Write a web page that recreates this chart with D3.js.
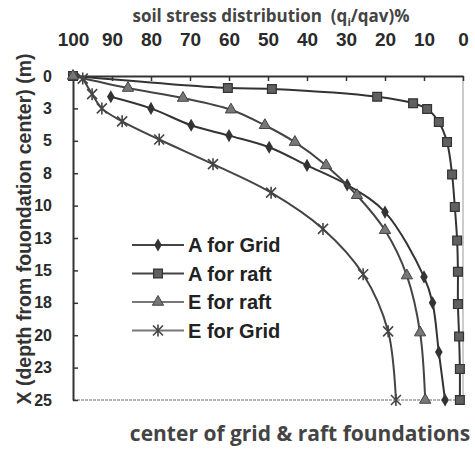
<!DOCTYPE html>
<html>
<head>
<meta charset="utf-8">
<script src="https://cdn.jsdelivr.net/npm/d3@7"></script>
<style>
  body { margin: 0; background: #fff; }
</style>
</head>
<body>
<div id="chart"></div>
<script>
// depth (m) and stress (%), one pair of arrays per series
var depthAGrid = [1.6, 2.5, 3.8, 4.6, 5.5, 6.9, 8.4, 10.5, 15.5, 17.5, 21.3, 25];
var stressAGrid = [90.3, 80, 69.7, 60, 49.7, 40, 29.7, 20, 10, 7.8, 6.2, 4.6];

var depthARaft = [0, 0.93, 1.0, 1.6, 2.1, 2.55, 3.55, 5.1, 7.6, 10.1, 12.7, 15.1, 17.6, 20.1, 22.6, 25];
var stressARaft = [100, 60.3, 49, 22, 12.8, 9.2, 6.2, 4.1, 2.8, 2.1, 1.5, 1.3, 1.3, 1.0, 0.8, 0.8];

var depthERaft = [0, 0.93, 1.7, 2.6, 3.8, 5.1, 6.9, 9.2, 11.9, 15.4, 19.8, 25];
var stressERaft = [100, 85.9, 71.8, 59.5, 50.8, 43.1, 35.1, 27.2, 20, 14.4, 11, 9.7];

var depthEGrid = [0.2, 1.4, 2.5, 3.5, 4.9, 6.8, 9.0, 11.8, 15.3, 19.7, 25];
var stressEGrid = [97.5, 95.1, 92.6, 87.4, 77.9, 64.1, 49.2, 35.9, 25.6, 19.2, 17.2];

var seriesNames = ["A for Grid", "A for raft", "E for raft", "E for Grid"];
var xTicks = [100, 90, 80, 70, 60, 50, 40, 30, 20, 10, 0];
var yTicks = [0, 2.5, 5, 7.5, 10, 12.5, 15, 17.5, 20, 22.5, 25];

var width = 475, height = 454;
var plotLeft = 73, plotRight = 463, plotTop = 76, plotBottom = 400;

var svg = d3.select("#chart").append("svg")
  .attr("width", width)
  .attr("height", height)
  .style("font-family", "'Liberation Sans', Arial, sans-serif");

var x = d3.scaleLinear().domain([100, 0]).range([plotLeft, plotRight]);
var y = d3.scaleLinear().domain([0, 25]).range([plotTop, plotBottom]);

function toPoints(depths, stresses) {
  return depths.map(function (d, i) { return { d: d, s: stresses[i] }; });
}

var series = [
  { name: seriesNames[0], pts: toPoints(depthAGrid, stressAGrid), stroke: "#333", mark: "diamond" },
  { name: seriesNames[1], pts: toPoints(depthARaft, stressARaft), stroke: "#333", mark: "square" },
  { name: seriesNames[2], pts: toPoints(depthERaft, stressERaft), stroke: "#444", mark: "triangle" },
  { name: seriesNames[3], pts: toPoints(depthEGrid, stressEGrid), stroke: "#444", mark: "star" }
];

// plot border (bottom + right, light)
svg.append("line")
  .attr("x1", plotLeft).attr("x2", plotRight).attr("y1", plotBottom).attr("y2", plotBottom)
  .attr("stroke", "#999").attr("stroke-width", 1.5).attr("stroke-dasharray", "3 1");
svg.append("line")
  .attr("x1", plotRight).attr("x2", plotRight).attr("y1", plotTop).attr("y2", plotBottom)
  .attr("stroke", "#aaa").attr("stroke-width", 1.2);

// x axis on top, ticks pointing in
var xAxis = svg.append("g")
  .attr("transform", "translate(0," + plotTop + ")")
  .call(d3.axisTop(x).tickValues(xTicks).tickSizeInner(-5).tickSizeOuter(0).tickPadding(30));
xAxis.select(".domain").attr("stroke", "#333").attr("stroke-width", 2);
xAxis.selectAll(".tick line").attr("stroke", "#333").attr("stroke-width", 1.5);
xAxis.selectAll("text")
  .attr("fill", "#2a2a2a")
  .style("font-size", "19px")
  .style("font-weight", "bold");

// y axis, labels rounded like the original (2.5 -> 3)
var yAxis = svg.append("g")
  .attr("transform", "translate(" + plotLeft + ",0)")
  .call(d3.axisLeft(y).tickValues(yTicks).tickFormat(d3.format(".0f")).tickSizeInner(-5).tickSizeOuter(0).tickPadding(21));
yAxis.select(".domain").attr("stroke", "#333").attr("stroke-width", 2);
yAxis.selectAll(".tick line").attr("stroke", "#333").attr("stroke-width", 1.5);
yAxis.selectAll("text")
  .attr("fill", "#2a2a2a")
  .style("font-size", "16px")
  .style("font-weight", "bold");

// markers
var starPath = "M-5,-5L5,5M-5,5L5,-5M0,-6L0,6";
function drawMark(g, type) {
  if (type === "diamond") {
    g.append("path").attr("d", d3.symbol(d3.symbolDiamond, 50)()).attr("fill", "#333");
  } else if (type === "square") {
    g.append("path").attr("d", d3.symbol(d3.symbolSquare, 78)())
      .attr("fill", "#606060").attr("stroke", "#333").attr("stroke-width", 1.2);
  } else if (type === "triangle") {
    g.append("path").attr("d", d3.symbol(d3.symbolTriangle, 55)())
      .attr("fill", "#777").attr("stroke", "#444").attr("stroke-width", 1);
  } else {
    g.append("path").attr("d", starPath)
      .attr("fill", "none").attr("stroke", "#444").attr("stroke-width", 1.6);
  }
}

var line = d3.line()
  .x(function (d) { return x(d.s); })
  .y(function (d) { return y(d.d); })
  .curve(d3.curveCatmullRom.alpha(0.5));

series.forEach(function (s) {
  svg.append("path")
    .datum(s.pts)
    .attr("fill", "none")
    .attr("stroke", s.stroke)
    .attr("stroke-width", 2)
    .attr("d", line);
  svg.append("g").selectAll("g")
    .data(s.pts)
    .enter().append("g")
    .attr("transform", function (d) { return "translate(" + x(d.s) + "," + y(d.d) + ")"; })
    .each(function () { drawMark(d3.select(this), s.mark); });
});

// legend
var legend = svg.append("g").attr("transform", "translate(132,245)");
series.forEach(function (s, i) {
  var row = legend.append("g").attr("transform", "translate(0," + i * 28.5 + ")");
  row.append("line").attr("x1", 0).attr("x2", 52)
    .attr("stroke", i < 2 ? "#444" : "#777").attr("stroke-width", 2);
  var m = row.append("g").attr("transform", "translate(26,0)");
  drawMark(m, s.mark);
  row.append("text")
    .attr("x", 56).attr("dy", "0.36em")
    .attr("fill", "#222")
    .style("font-size", "20px")
    .style("font-weight", "bold")
    .text(s.name);
});

// titles
var title = svg.append("text")
  .attr("x", 271).attr("y", 22)
  .attr("text-anchor", "middle")
  .attr("fill", "#444")
  .style("font-family", "'Open Sans', sans-serif")
  .style("font-size", "17px")
  .style("font-weight", "bold");
title.append("tspan").text("soil stress distribution\u00a0\u00a0(q");
title.append("tspan").attr("dy", 4).style("font-size", "11px").text("i");
title.append("tspan").attr("dy", -4).text("/qav)%");

svg.append("text")
  .attr("transform", "translate(31,229)rotate(-90)")
  .attr("text-anchor", "middle")
  .attr("fill", "#333")
  .style("font-size", "19.5px")
  .style("font-weight", "bold")
  .text("X (depth from fouondation center) (m)");

svg.append("text")
  .attr("x", 300).attr("y", 441)
  .attr("text-anchor", "middle")
  .attr("fill", "#444")
  .style("font-family", "'Open Sans', sans-serif")
  .style("font-size", "21px")
  .style("font-weight", "bold")
  .text("center of grid & raft foundations");
</script>
</body>
</html>
